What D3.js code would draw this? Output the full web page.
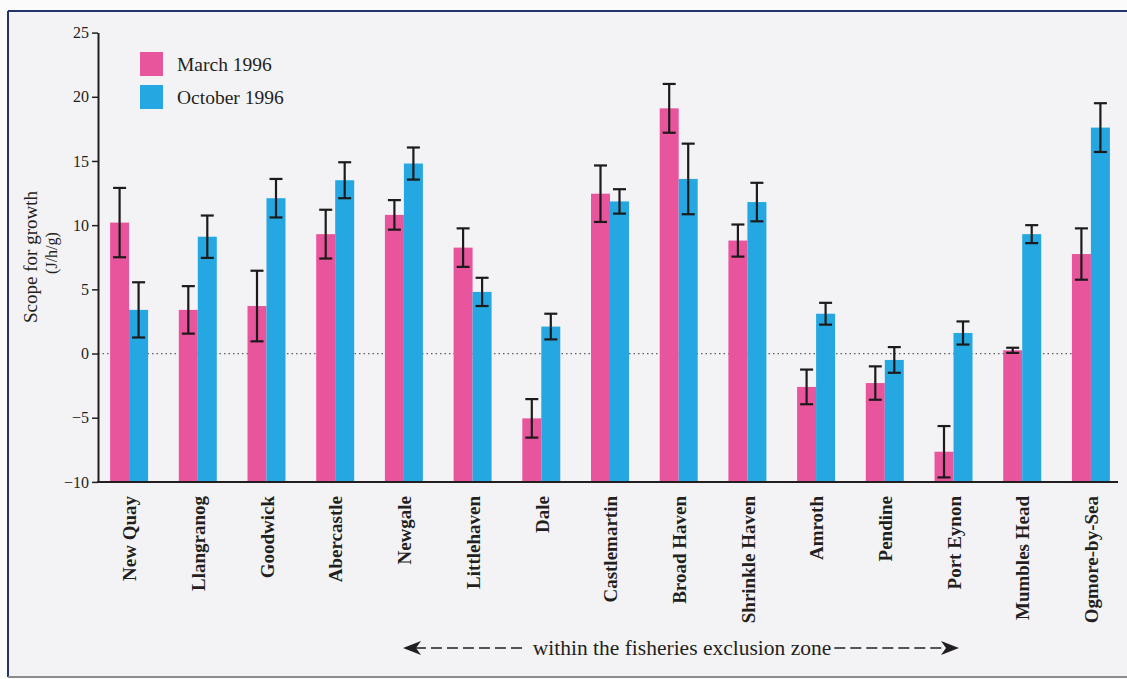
<!DOCTYPE html>
<html>
<head>
<meta charset="utf-8">
<script src="https://cdn.jsdelivr.net/npm/d3@7"></script>
<style>
  html, body { margin: 0; padding: 0; background: #fbfbfb; }
  svg { display: block; }
  text { font-family: "Liberation Serif", "Times New Roman", serif; fill: #231f20; }
</style>
</head>
<body>
<svg id="chart" width="1127" height="679"></svg>
<script>
// Scope for growth (J/h/g) at each sampling site, mean and error
const sites = ["New Quay", "Llangranog", "Goodwick", "Abercastle", "Newgale",
  "Littlehaven", "Dale", "Castlemartin", "Broad Haven", "Shrinkle Haven",
  "Amroth", "Pendine", "Port Eynon", "Mumbles Head", "Ogmore-by-Sea"];
const marchValues   = [10.2, 3.4, 3.7, 9.3, 10.8, 8.25, -5.05, 12.45, 19.1, 8.8, -2.6, -2.3, -7.65, 0.25, 7.75];
const marchErrors   = [2.7, 1.85, 2.75, 1.9, 1.15, 1.5, 1.5, 2.2, 1.9, 1.25, 1.35, 1.3, 2.0, 0.2, 2.0];
const octoberValues = [3.4, 9.1, 12.1, 13.5, 14.8, 4.8, 2.1, 11.85, 13.6, 11.8, 3.1, -0.5, 1.6, 9.3, 17.6];
const octoberErrors = [2.15, 1.65, 1.5, 1.4, 1.25, 1.1, 1.0, 0.95, 2.75, 1.5, 0.85, 1.0, 0.9, 0.7, 1.9];
const seriesNames   = ["March 1996", "October 1996"];
const seriesColors  = ["#e9559d", "#25a8e2"];
const yTicks        = [-10, -5, 0, 5, 10, 15, 20, 25];
const zoneLabel     = "within the fisheries exclusion zone";

const svg = d3.select("#chart");
const W = 1127, H = 679;
const serif = "'Liberation Serif', 'Times New Roman', serif";

// page panel
svg.append("rect").attr("x", 8).attr("y", 11).attr("width", W).attr("height", H - 13)
  .attr("fill", "#f3f3f5").attr("stroke", "none");
svg.append("line").attr("x1", 8).attr("x2", W).attr("y1", 11).attr("y2", 11)
  .attr("stroke", "#23336e").attr("stroke-width", 2);
svg.append("line").attr("x1", 8).attr("x2", 8).attr("y1", 11).attr("y2", H - 2)
  .attr("stroke", "#23336e").attr("stroke-width", 2);
svg.append("line").attr("x1", 8).attr("x2", W).attr("y1", H - 2).attr("y2", H - 2)
  .attr("stroke", "#8c8c90").attr("stroke-width", 2);

const plotLeft = 98, plotRight = 1118;
const y = d3.scaleLinear().domain([-10, 25]).range([481.9, 32.6]);
const x = d3.scaleBand().domain(sites).range([plotLeft + 2, plotRight + 2])
  .paddingInner(0.447).paddingOuter(0.147);
const xs = d3.scaleBand().domain(seriesNames).range([0, x.bandwidth()]);

// dotted zero reference
svg.append("line")
  .attr("x1", plotLeft).attr("x2", x(sites[sites.length - 1]))
  .attr("y1", y(0)).attr("y2", y(0))
  .attr("stroke", "#5f5f63").attr("stroke-width", 1.3)
  .attr("stroke-dasharray", "1.5,3");

const rows = sites.map((s, i) => ({
  site: s,
  vals: [
    { key: seriesNames[0], v: marchValues[i], e: marchErrors[i], c: seriesColors[0] },
    { key: seriesNames[1], v: octoberValues[i], e: octoberErrors[i], c: seriesColors[1] }
  ]
}));

const groups = svg.append("g").selectAll("g").data(rows).join("g")
  .attr("transform", d => `translate(${x(d.site)},0)`);

// bars rise from the bottom of the scale
groups.selectAll("rect").data(d => d.vals).join("rect")
  .attr("x", d => xs(d.key))
  .attr("width", xs.bandwidth())
  .attr("y", d => y(d.v))
  .attr("height", d => y(-10) - y(d.v))
  .attr("fill", d => d.c);

// error bars
const capW = 13;
const cx = d => xs(d.key) + xs.bandwidth() / 2;
const err = groups.selectAll("g.err").data(d => d.vals).join("g").attr("class", "err")
  .attr("stroke", "#1d1a1b").attr("stroke-width", 2.2);
err.append("line")
  .attr("x1", cx).attr("x2", cx)
  .attr("y1", d => y(d.v + d.e)).attr("y2", d => y(d.v - d.e));
err.append("line")
  .attr("x1", d => cx(d) - capW / 2).attr("x2", d => cx(d) + capW / 2)
  .attr("y1", d => y(d.v + d.e)).attr("y2", d => y(d.v + d.e));
err.append("line")
  .attr("x1", d => cx(d) - capW / 2).attr("x2", d => cx(d) + capW / 2)
  .attr("y1", d => y(d.v - d.e)).attr("y2", d => y(d.v - d.e));

// y axis
const yAxis = svg.append("g").attr("transform", `translate(${plotLeft},0)`)
  .call(d3.axisLeft(y).tickValues(yTicks).tickSize(6).tickSizeOuter(0).tickPadding(3))
  .attr("font-family", serif).attr("font-size", 16);
yAxis.select(".domain").attr("stroke", "#231f20").attr("stroke-width", 2);
yAxis.selectAll(".tick line").attr("stroke", "#231f20").attr("stroke-width", 1.5);
yAxis.selectAll(".tick text").attr("fill", "#231f20")
  .style("font-family", serif).style("font-size", "16px");

// baseline
svg.append("line").attr("x1", plotLeft - 1).attr("x2", plotRight)
  .attr("y1", y(-10)).attr("y2", y(-10))
  .attr("stroke", "#231f20").attr("stroke-width", 2);

// site labels
svg.append("g").selectAll("text").data(sites).join("text")
  .attr("transform", d => `translate(${x(d) + x.bandwidth() / 2 + 1},496) rotate(-90)`)
  .attr("text-anchor", "end").attr("dy", "0.33em")
  .style("font-size", "19px").style("font-weight", "bold")
  .text(d => d);

// y axis title
svg.append("text").attr("transform", "translate(37,257) rotate(-90)")
  .attr("text-anchor", "middle").style("font-size", "19px").text("Scope for growth");
svg.append("text").attr("transform", "translate(57,253) rotate(-90)")
  .attr("text-anchor", "middle").style("font-size", "16px").text("(J/h/g)");

// legend
const legend = svg.append("g").selectAll("g").data(seriesNames).join("g")
  .attr("transform", (d, i) => `translate(140,${52 + i * 33})`);
legend.append("rect").attr("width", 23).attr("height", 24).attr("fill", (d, i) => seriesColors[i]);
legend.append("text").attr("x", 37).attr("y", 19).style("font-size", "19.5px").text(d => d);

// exclusion zone annotation
const zoneY = 648;
const zoneText = svg.append("text").attr("x", 682).attr("y", zoneY + 7)
  .attr("text-anchor", "middle").style("font-size", "21.5px").text(zoneLabel);
const tw = zoneText.node().getComputedTextLength();
const tL = 682 - tw / 2, tR = 682 + tw / 2;
const arrowL = 403, arrowR = 959;
svg.append("line").attr("x1", arrowL + 12).attr("x2", tL - 6).attr("y1", zoneY).attr("y2", zoneY)
  .attr("stroke", "#231f20").attr("stroke-width", 1.6).attr("stroke-dasharray", "11,5");
svg.append("line").attr("x1", tR + 3).attr("x2", arrowR - 12).attr("y1", zoneY).attr("y2", zoneY)
  .attr("stroke", "#231f20").attr("stroke-width", 1.6).attr("stroke-dasharray", "11,5");
svg.append("path").attr("d", `M${arrowL},${zoneY} L${arrowL + 18},${zoneY - 7} L${arrowL + 13},${zoneY} L${arrowL + 18},${zoneY + 7} Z`)
  .attr("fill", "#231f20");
svg.append("path").attr("d", `M${arrowR},${zoneY} L${arrowR - 18},${zoneY - 7} L${arrowR - 13},${zoneY} L${arrowR - 18},${zoneY + 7} Z`)
  .attr("fill", "#231f20");
</script>
</body>
</html>
